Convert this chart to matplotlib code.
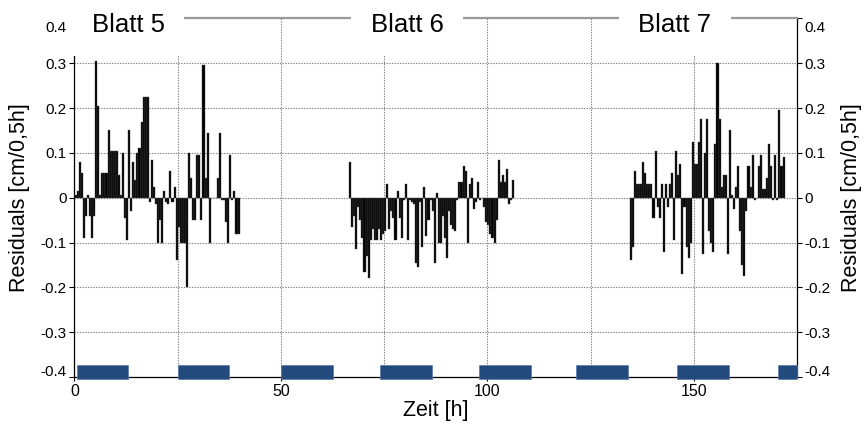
import matplotlib
matplotlib.use("Agg")
import matplotlib.pyplot as plt
import matplotlib.transforms as mtransforms
import numpy as np

plt.rcParams['font.family'] = ['Liberation Sans', 'DejaVu Sans']

# ---------------- data ----------------
step = 0.5  # hours per residual interval

blatt5_start = 0.0
blatt5 = [0.005, 0.015, 0.08, 0.055, -0.09, -0.04, 0.005, -0.04, -0.09, -0.04,
          0.305, 0.205, 0.005, 0.055, 0.055, 0.055, 0.15, 0.105, 0.105, 0.105,
          0.105, 0.05, 0.005, 0.1, -0.045, -0.095, 0.15, -0.03, 0.08, 0.04,
          0.1, 0.11, 0.17, 0.225, 0.225, 0.225, -0.01, 0.085, 0.025, -0.015,
          -0.1, -0.05, -0.1, 0.015, -0.01, -0.015, 0.06, -0.01, 0.025, -0.14,
          -0.065, -0.1, -0.1, -0.1, -0.2, 0.1, 0.045, -0.05, -0.05, 0.095,
          0.095, -0.05, 0.295, 0.045, 0.145, -0.1, 0.0, 0.0, 0.0, 0.045,
          0.145, -0.005, -0.005, -0.055, -0.1, 0.095, -0.005, 0.015, -0.08, -0.08]

blatt6_start = 66.5
blatt6 = [0.08, -0.065, -0.04, -0.115, -0.02, -0.05, -0.09, -0.165, -0.13, -0.18,
          -0.095, -0.07, -0.095, -0.095, -0.07, -0.095, -0.08, -0.075, 0.03, -0.07,
          -0.03, -0.045, -0.095, 0.015, -0.045, -0.09, -0.005, 0.03, -0.095, -0.005,
          -0.01, -0.015, -0.145, -0.155, -0.01, -0.11, 0.025, -0.085, -0.05, -0.005,
          -0.03, -0.145, 0.01, -0.1, -0.1, -0.04, -0.09, -0.135, -0.03, -0.06,
          -0.07, -0.075, -0.005, 0.035, 0.035, 0.07, 0.06, -0.1, 0.03, 0.045,
          -0.025, -0.01, 0.035, -0.005, 0.0, -0.02, -0.055, -0.06, -0.08, -0.09,
          -0.1, -0.05, 0.085, 0.035, 0.05, 0.035, 0.065, -0.015, -0.005, 0.04]

blatt7_start = 134.5
blatt7 = [-0.14, -0.11, 0.06, 0.03, 0.03, 0.03, 0.08, 0.055, 0.03, 0.03,
          0.03, -0.045, 0.105, -0.02, -0.045, 0.03, -0.12, 0.03, -0.02, 0.03,
          0.055, -0.095, 0.105, 0.05, 0.075, -0.17, -0.02, -0.11, -0.135, -0.1,
          0.125, 0.075, 0.075, 0.125, 0.175, -0.125, 0.1, 0.175, -0.075, -0.1,
          -0.12, 0.12, 0.3, 0.175, 0.025, 0.05, 0.05, -0.125, 0.15, 0.005,
          -0.025, 0.025, 0.07, -0.075, -0.15, -0.175, -0.03, 0.07, 0.025, 0.095,
          -0.005, 0.0, 0.07, 0.095, 0.02, 0.02, 0.045, 0.12, 0.07, -0.005,
          0.095, -0.005, 0.195, 0.07, 0.09]

night_start = [0.5, 25.0, 50.0, 74.0, 98.0, 121.5, 146.0, 170.5]
night_end = [13.0, 37.5, 62.5, 86.5, 110.5, 134.0, 158.5, 175.0]

sheet_labels = ["Blatt 5", "Blatt 6", "Blatt 7"]
sheet_label_x = [13.0, 80.6, 145.4]

yticks = [-0.4, -0.3, -0.2, -0.1, 0.0, 0.1, 0.2, 0.3, 0.4]
ytick_labels = ["-0.4", "-0.3", "-0.2", "-0.1", "0", "0.1", "0.2", "0.3", "0.4"]
xticks = [0, 50, 100, 150]
xticks_minor = [25, 75, 125]

# ---------------- figure ----------------
fig = plt.figure(figsize=(8.66, 4.24), dpi=100)
ax = fig.add_axes([0.086, 0.1108, 0.8343, 0.8458])

ax.set_xlim(0, 175)
ax.set_ylim(-0.4, 0.4)

for start, vals in [(blatt5_start, blatt5), (blatt6_start, blatt6), (blatt7_start, blatt7)]:
    t = start + step * np.arange(len(vals))
    ax.bar(t, vals, width=step, align='edge', color='black',
           edgecolor='#4a4a4a', linewidth=0.3, zorder=3)

# night periods
ns = np.array(night_start)
ne = np.array(night_end)
ax.bar(ns, 0.0305, width=ne - ns, bottom=-0.4035, align='edge',
       color='#224a7c', edgecolor='#5a7aa8', linewidth=0.5, zorder=4, clip_on=False)

# grid
ax.set_xticks(xticks)
ax.set_xticks(xticks_minor, minor=True)
ax.set_yticks(yticks)
ax.set_yticklabels(ytick_labels)
ax.grid(True, which='both', axis='x', color='#808080', linestyle=(0, (1.2, 1.2)), linewidth=0.8, zorder=0)
ax.grid(True, which='major', axis='y', color='#808080', linestyle=(0, (1.2, 1.2)), linewidth=0.8, zorder=0)
ax.set_axisbelow(True)

ax.tick_params(axis='y', which='major', direction='out', length=3.5, width=0.8,
               labelsize=11, left=True, right=True, labelleft=True, labelright=True, pad=2)
ax.tick_params(axis='x', which='major', direction='out', length=3, width=0.8, labelsize=11.5, pad=2)
ax.tick_params(axis='x', which='minor', length=0)

for sp in ['left', 'right', 'bottom']:
    ax.spines[sp].set_color('black')
    ax.spines[sp].set_linewidth(0.9)
ax.spines['top'].set_color('#9a9a9a')
ax.spines['top'].set_linewidth(1.6)

# shift extreme y tick labels slightly inward; hide the left tick mark at the top
for tick, val in zip(ax.yaxis.get_major_ticks(), yticks):
    if abs(val) > 0.39:
        dy = -6 / 72 if val > 0 else 5 / 72
        off = mtransforms.ScaledTranslation(0, dy, fig.dpi_scale_trans)
        tick.label1.set_transform(tick.label1.get_transform() + off)
        tick.label2.set_transform(tick.label2.get_transform() + off)
        if val > 0:
            tick.tick1line.set_visible(False)

# sheet labels with white boxes breaking the top line
for x, s in zip(sheet_label_x, sheet_labels):
    ax.text(x, 0.370, s, ha='center', va='baseline', fontsize=18.5, zorder=6,
            clip_on=False,
            bbox=dict(facecolor='white', edgecolor='none', pad=14))

ax.set_xlabel("Zeit [h]", fontsize=15.5, labelpad=1)
fig.text(20 / 866, 0.5 + (424 / 2 - 197.7) / 424, "Residuals [cm/0,5h]", rotation=90,
         ha='center', va='center', fontsize=15.5)
fig.text(851 / 866, 0.5 + (424 / 2 - 197.7) / 424, "Residuals [cm/0,5h]", rotation=90,
         ha='center', va='center', fontsize=15.5)

fig.savefig("out.png", dpi=100)
